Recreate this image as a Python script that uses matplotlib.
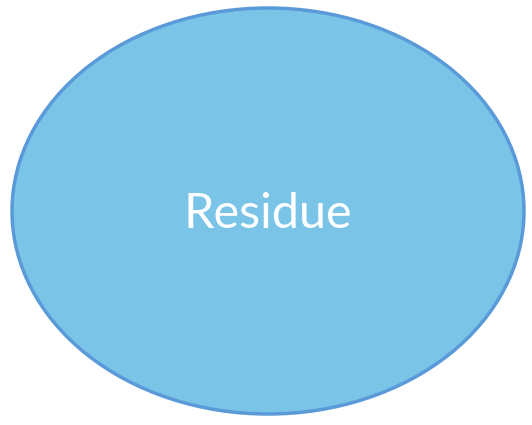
import matplotlib
matplotlib.use("Agg")
import matplotlib.pyplot as plt
from matplotlib.patches import Ellipse

labels = ["Residue"]
centers = [(268, 211)]
sizes = [(512, 406)]

fig = plt.figure(figsize=(5.32, 4.25), dpi=100)
ax = fig.add_axes([0, 0, 1, 1])
ax.set_xlim(0, 532)
ax.set_ylim(425, 0)
ax.axis("off")

for lab, (cx, cy), (w, h) in zip(labels, centers, sizes):
    ax.add_patch(Ellipse((cx, cy), w, h, facecolor="#7ac4e8", edgecolor="#5a9ad8", linewidth=2.5))
    ax.text(cx, cy + 3, lab, color="white", fontsize=35, family="Lato", ha="center", va="center")

fig.savefig("out.png", dpi=100)
